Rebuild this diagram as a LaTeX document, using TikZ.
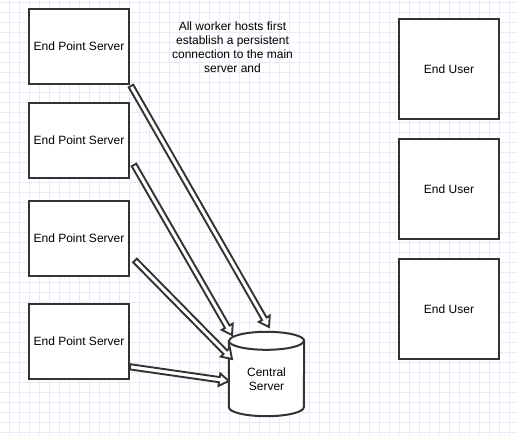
\documentclass[tikz,border=0pt]{standalone}
\usepackage{fontspec}
\setmainfont{Liberation Sans}
\usetikzlibrary{calc}
\definecolor{gridc}{RGB}{235,233,248}
\definecolor{linec}{RGB}{51,51,51}
\tikzset{
  box/.style={draw=linec, line width=2pt, fill=white, minimum width=100pt, inner sep=0pt, font=\fontsize{12}{14}\selectfont, text=black},
  epsbox/.style={box, minimum height=75pt},
  eubox/.style={box, minimum height=100pt},
  flexarr/.style={draw=linec, line width=1.9pt, fill=white, line join=miter},
  note/.style={align=center, font=\fontsize{12}{14}\selectfont, text=black, inner sep=0pt}
}
\newcommand\flexarrow[2]{%
  \coordinate (fxh) at ($(#2)!9.5pt!(#1)$);
  \draw[flexarr] ($(#1)!2.6pt!90:(#2)$) -- ($(fxh)!2.6pt!90:(#2)$) -- ($(fxh)!6.3pt!90:(#2)$) -- (#2) -- ($(fxh)!6.3pt!-90:(#2)$) -- ($(fxh)!2.6pt!-90:(#2)$) -- ($(#1)!2.6pt!-90:(#2)$) -- cycle;}
\begin{document}
\begin{tikzpicture}[x=1pt,y=1pt]
\useasboundingbox (0,0) rectangle (517,-436);
\fill[white] (0,0) rectangle (517,-436);
% grid
\foreach \gx in {9,19,...,509} \draw[gridc, line width=0.8pt] (\gx,0) -- (\gx,-436);
\foreach \gy in {2,12,...,432} \draw[gridc, line width=0.8pt] (0,-\gy) -- (517,-\gy);
% end point servers
\node[epsbox] (eps1) at (79,-46.5) {End Point Server};
\node[epsbox] (eps2) at (79,-140.5) {End Point Server};
\node[epsbox] (eps3) at (79,-238.5) {End Point Server};
\node[epsbox] (eps4) at (79,-341.5) {End Point Server};
% end users
\node[eubox] (eu1) at (449,-69) {End User};
\node[eubox] (eu2) at (449,-189) {End User};
\node[eubox] (eu3) at (449,-309) {End User};
% note
\node[note] (note) at (232.5,-47) {All worker hosts first\\establish a persistent\\connection to the main\\server and};
% central server cylinder
\node[minimum width=75pt, minimum height=84pt, inner sep=0pt] (cs) at (266.5,-374) {};
\draw[draw=linec, line width=2pt, fill=white] (cs.north west) ++(0,-9) -- ($(cs.south west)+(0,9)$) arc[start angle=180, end angle=360, x radius=37.5, y radius=9] -- ($(cs.north east)+(0,-9)$) arc[start angle=0, end angle=180, x radius=37.5, y radius=9] -- cycle;
\draw[draw=linec, line width=2pt] ($(cs.north west)+(0,-9)$) arc[start angle=180, end angle=360, x radius=37.5, y radius=9];
\node[note] (cstext) at (266.5,-379) {Central\\Server};
% arrows
\coordinate (a1s) at ($(eps1.south east)+(1,-1)$);
\coordinate (a1e) at (269,-327);
\coordinate (a2s) at ($(eps2.east)+(4,-24.5)$);
\coordinate (a2e) at (232,-335);
\coordinate (a3s) at ($(eps3.east)+(5,-22)$);
\coordinate (a3e) at (232,-359);
\coordinate (a4s) at ($(eps4.east)+(0,-25.3)$);
\coordinate (a4e) at ($(cs.west)+(0,-7)$);
\flexarrow{a1s}{a1e}
\flexarrow{a2s}{a2e}
\flexarrow{a3s}{a3e}
\flexarrow{a4s}{a4e}
\end{tikzpicture}
\end{document}
